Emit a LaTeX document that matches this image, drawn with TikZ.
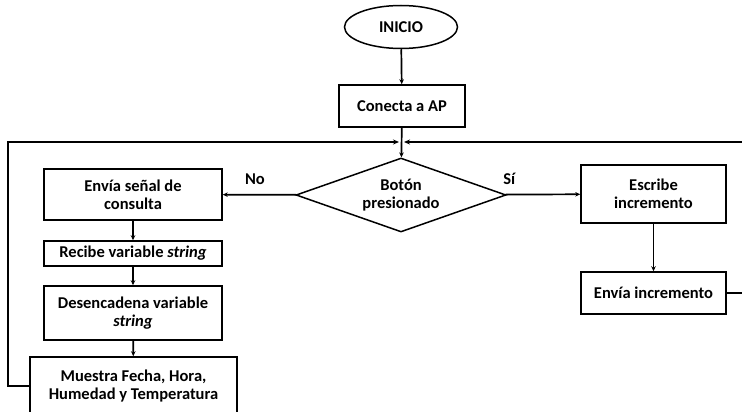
\documentclass[tikz,border=0pt]{standalone}
\usepackage{fontspec}
\setmainfont{Carlito}
\usepackage{tikz}
\usetikzlibrary{
	shapes.geometric,
	arrows.meta
}

\tikzset{
	box/.style={draw,line width=1.5pt,align=center,inner sep=1pt,
		font=\bfseries\fontsize{16.5}{18}\selectfont},
	decision/.style={box,diamond,aspect=2.84,inner sep=0pt},
	terminal/.style={box,ellipse,inner sep=0pt},
	flow/.style={line width=1.7pt,-{Stealth[length=5pt,width=4.5pt]}},
	back/.style={line width=2.4pt,-{Stealth[length=6pt,width=5pt]}},
	lbl/.style={font=\bfseries\fontsize{16.5}{18}\selectfont}
}

\begin{document}
\begin{tikzpicture}[x=1pt,y=-1pt]
		\useasboundingbox (0,0) rectangle (742,412);

		\draw
			node[terminal,minimum width=113,minimum height=43] (inicio)  at (401,27)    {INICIO}
			node[box,minimum width=126,minimum height=42]      (conecta) at (402,106)   {Conecta a AP}
			node[decision,minimum width=210,minimum height=74] (boton)   at (401,195)   {Botón\\presionado}
			node[box,minimum width=178,minimum height=51]      (senal)   at (133,194.5) {Envía señal de\\consulta}
			node[box,minimum width=178,minimum height=25]      (recibe)  at (133,253.5) {Recibe variable \textit{string}}
			node[box,minimum width=178,minimum height=54]      (desenc)  at (133,313)   {Desencadena variable\\\textit{string}}
			node[box,minimum width=207,minimum height=58]      (muestra) at (133.5,386) {Muestra Fecha, Hora,\\Humedad y Temperatura}
			node[box,minimum width=145,minimum height=58]      (escribe) at (653.5,194) {Escribe\\incremento}
			node[box,minimum width=145,minimum height=42]      (envinc)  at (653.5,293) {Envía incremento}

			(inicio)  edge[flow] (conecta)
			(conecta) edge[flow] (boton)
			(boton)   edge[flow] node[lbl,above=6pt,pos=0.56]{No} (senal)
			(boton)   edge[flow] node[lbl,above=6pt,pos=0.05]{Sí} (escribe)
			(senal)   edge[flow] (recibe)
			(recibe)  edge[flow] (desenc)
			(desenc)  edge[flow] (muestra)
			(escribe) edge[flow] (envinc)
		;

		% lazos de retorno
		\coordinate (izq)  at (8,142);
		\coordinate (der)  at (760,142);
		\coordinate (jizq) at (399,142);
		\coordinate (jder) at (404,142);
		\draw[back] (muestra.west) -| (izq) -- (jizq);
		\draw[back] (envinc.east) -| (der) -- (jder);
	\end{tikzpicture}
\end{document}
